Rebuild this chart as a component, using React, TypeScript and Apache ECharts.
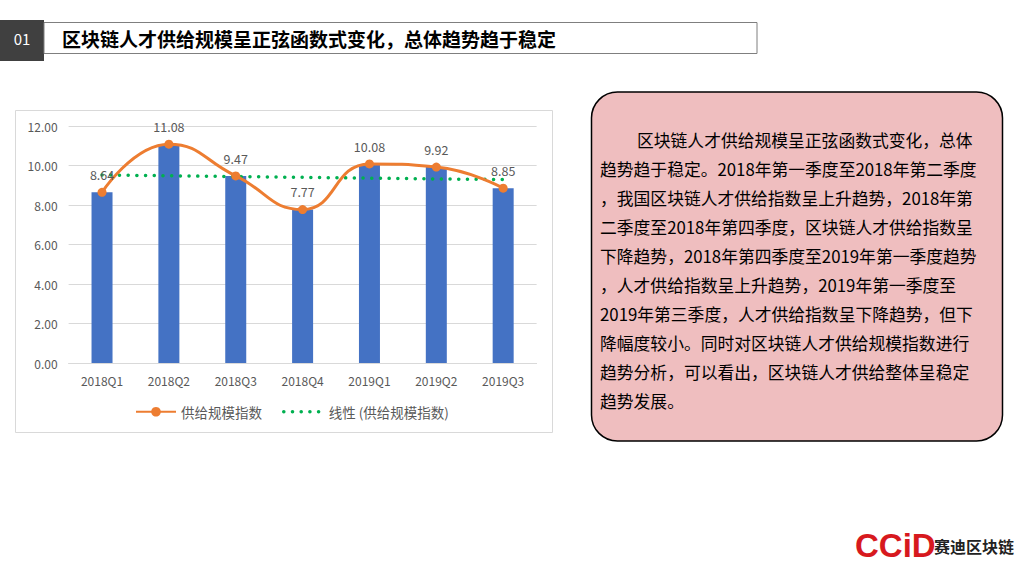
import React, { useEffect, useRef } from "react";
import * as echarts from "echarts";

const categories = ["2018Q1", "2018Q2", "2018Q3", "2018Q4", "2019Q1", "2019Q2", "2019Q3"];
const supplyIndex = [8.64, 11.08, 9.47, 7.77, 10.08, 9.92, 8.85];
const trendValues = [9.52, 9.48, 9.44, 9.4, 9.36, 9.32, 9.29];
const seriesName = "供给规模指数";
const trendName = "线性 (供给规模指数)";
const titleNo = "01";
const titleText = "区块链人才供给规模呈正弦函数式变化，总体趋势趋于稳定";
const bodyLines = [
  "区块链人才供给规模呈正弦函数式变化，总体",
  "趋势趋于稳定。2018年第一季度至2018年第二季度",
  "，我国区块链人才供给指数呈上升趋势，2018年第",
  "二季度至2018年第四季度，区块链人才供给指数呈",
  "下降趋势，2018年第四季度至2019年第一季度趋势",
  "，人才供给指数呈上升趋势，2019年第一季度至",
  "2019年第三季度，人才供给指数呈下降趋势，但下",
  "降幅度较小。同时对区块链人才供给规模指数进行",
  "趋势分析，可以看出，区块链人才供给整体呈稳定",
  "趋势发展。",
];
const logoMark = "CCiD";
const logoText = "赛迪区块链";

const FONT = '"Noto Sans CJK SC", "Noto Sans", sans-serif';

export default function App() {
  const ref = useRef<HTMLDivElement>(null);
  useEffect(() => {
    if (!ref.current) return;
    const chart = echarts.init(ref.current, undefined, { renderer: "svg" });
    const graphic: any[] = [
      { type: "rect", shape: { x: 0, y: 20, width: 44, height: 41 }, style: { fill: "#404040" } },
      { type: "rect", shape: { x: 44, y: 22.5, width: 713, height: 31 }, style: { fill: "#fff", stroke: "#7f7f7f", lineWidth: 1 } },
      { type: "text", x: 22, y: 38, style: { text: titleNo, fill: "#fff", font: `15px ${FONT}`, align: "center", verticalAlign: "middle" } },
      { type: "text", x: 62, y: 38, style: { text: titleText, fill: "#000", font: `bold 19px ${FONT}`, verticalAlign: "middle" } },
      { type: "rect", shape: { x: 15.5, y: 110.5, width: 537, height: 322 }, style: { fill: "none", stroke: "#d9d9d9", lineWidth: 1 } },
      { type: "rect", shape: { x: 591.5, y: 92, width: 411, height: 349, r: 26 }, style: { fill: "#EFBEBF", stroke: "#000", lineWidth: 1.5 } },
      { type: "text", x: 855, y: 545, style: { text: logoMark, fill: "#D7191E", font: `bold 33px "Liberation Sans", Arial, sans-serif`, verticalAlign: "middle" } },
      { type: "text", x: 934, y: 546, style: { text: logoText, fill: "#222", font: `bold 16px ${FONT}`, verticalAlign: "middle" } },
    ];
    bodyLines.forEach((line, i) => {
      graphic.push({
        type: "text",
        x: i === 0 ? 637 : 600,
        y: 139.8 + 29.06 * i,
        style: { text: line, fill: "#000", font: `16.8px ${FONT}`, verticalAlign: "middle" },
      });
    });
    chart.setOption({
      animation: false,
      backgroundColor: "#fff",
      textStyle: { fontFamily: FONT },
      graphic,
      legend: {
        data: [
          { name: seriesName },
          { name: trendName, itemStyle: { opacity: 0 }, lineStyle: { color: "#00B050", width: 3.5, type: [0.1, 8.6], cap: "round" } },
        ],
        left: 130,
        top: 400,
        itemWidth: 40,
        itemHeight: 12,
        itemGap: 20,
        textStyle: { color: "#595959", fontSize: 13.5 },
      },
      grid: { left: 68.6, right: 483.4, top: 126, bottom: 205, containLabel: false },
      xAxis: {
        type: "category",
        data: categories,
        axisLine: { lineStyle: { color: "#d9d9d9" } },
        axisTick: { show: false },
        axisLabel: { color: "#595959", fontSize: 12, margin: 11 },
      },
      yAxis: {
        type: "value",
        min: 0,
        max: 12,
        interval: 2,
        axisLabel: { color: "#595959", fontSize: 12, margin: 11, formatter: (v: number) => v.toFixed(2) },
        splitLine: { lineStyle: { color: "#d9d9d9" } },
        axisLine: { show: false },
        axisTick: { show: false },
      },
      series: [
        {
          name: "柱",
          type: "bar",
          data: supplyIndex,
          barWidth: 21,
          itemStyle: { color: "#4472C4" },
          z: 1,
        },
        {
          name: trendName,
          type: "line",
          data: trendValues,
          symbol: "none",
          lineStyle: { color: "#00B050", width: 3.5, type: [0.1, 8.6], cap: "round" },
          itemStyle: { color: "#00B050" },
          z: 3,
        },
        {
          name: seriesName,
          type: "line",
          data: supplyIndex,
          smooth: 0.5,
          symbol: "circle",
          symbolSize: 9,
          lineStyle: { color: "#ED7D31", width: 3 },
          itemStyle: { color: "#ED7D31" },
          label: { show: true, position: "top", distance: 7, color: "#595959", fontSize: 12.5, formatter: (p: any) => p.value.toFixed(2) },
          z: 4,
        },
      ],
    });
    return () => chart.dispose();
  }, []);
  return <div ref={ref} style={{ position: "fixed", left: 0, top: 0, width: 1020, height: 568 }} />;
}
